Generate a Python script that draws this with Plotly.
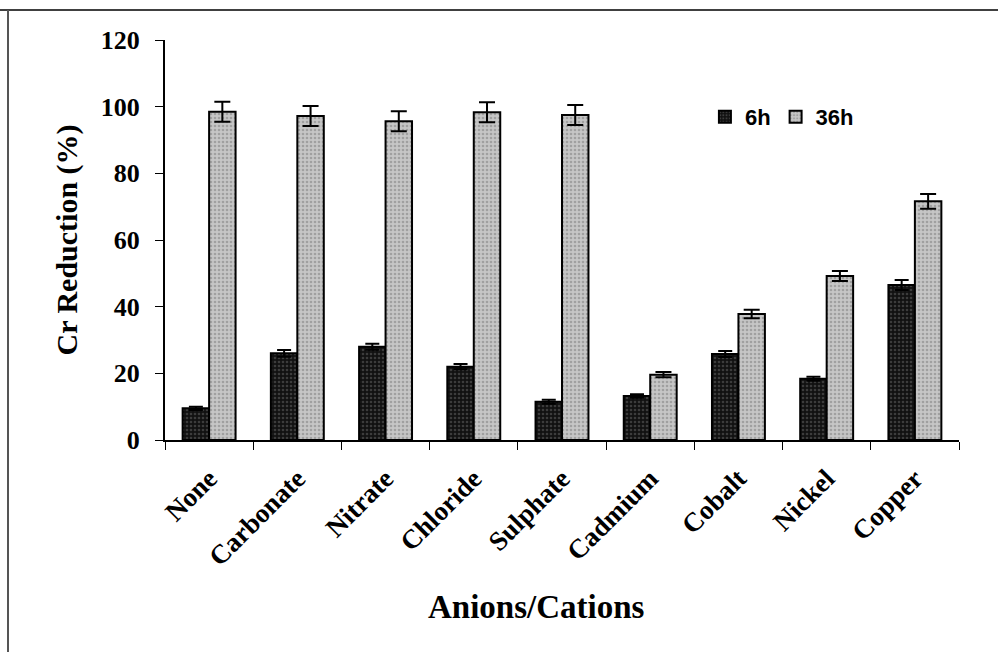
import plotly.graph_objects as go

# Cr(VI) reduction after 6 h and 36 h in the presence of anions / cations
categories = ["None", "Carbonate", "Nitrate", "Chloride", "Sulphate",
              "Cadmium", "Cobalt", "Nickel", "Copper"]
red_6h = [9.5, 26.0, 28.0, 22.0, 11.5, 13.2, 25.8, 18.4, 46.5]
err_6h = [0.5, 1.0, 0.9, 0.8, 0.6, 0.5, 0.9, 0.6, 1.5]
red_36h = [98.5, 97.2, 95.6, 98.3, 97.5, 19.6, 37.8, 49.2, 71.6]
err_36h = [3.0, 3.0, 3.0, 3.0, 3.0, 0.8, 1.3, 1.5, 2.2]

serif = "Liberation Serif, Times New Roman, serif"
sans = "Liberation Sans, Arial, sans-serif"

fig = go.Figure()
fig.add_trace(go.Bar(
    name="6h", x=categories, y=red_6h,
    error_y=dict(type="data", array=err_6h, visible=True,
                 color="black", thickness=2, width=7),
    marker=dict(color="#111111",
                line=dict(color="black", width=2),
                pattern=dict(shape=".", fgcolor="#3c3c3c", bgcolor="#111111",
                             size=4, solidity=0.35, fillmode="replace")),
))
fig.add_trace(go.Bar(
    name="36h", x=categories, y=red_36h,
    error_y=dict(type="data", array=err_36h, visible=True,
                 color="black", thickness=2, width=8),
    marker=dict(color="#c0c0c0",
                line=dict(color="black", width=2),
                pattern=dict(shape=".", fgcolor="#a0a0a0", bgcolor="#c6c6c6",
                             size=4, solidity=0.35, fillmode="replace")),
))

fig.update_layout(
    width=998, height=652,
    margin=dict(l=165, r=39, t=40, b=212),
    paper_bgcolor="white", plot_bgcolor="white",
    barmode="group", bargap=0.40, bargroupgap=0,
    showlegend=True,
    legend=dict(orientation="h", x=0.68, y=0.8075, xanchor="left", yanchor="middle",
                font=dict(family=sans, size=22, color="black", weight="bold"),
                bgcolor="rgba(0,0,0,0)", itemwidth=30, tracegroupgap=0),
    font=dict(family=serif, color="black"),
)

fig.update_yaxes(
    range=[0, 120], dtick=20, tickformat="d",
    showgrid=False, zeroline=False,
    showline=True, linecolor="black", linewidth=2,
    ticks="outside", ticklen=8, tickwidth=1, tickcolor="black",
    ticklabelstandoff=10,
    tickfont=dict(family=serif, size=26, color="black", weight="bold"),
    title=dict(text="Cr Reduction (%)", standoff=14,
               font=dict(family=serif, size=30, color="black", weight="bold")),
)
fig.update_xaxes(
    type="category", tickson="boundaries", tickangle=-45,
    showgrid=False, zeroline=False,
    showline=True, linecolor="black", linewidth=2,
    ticks="outside", ticklen=8, tickwidth=1, tickcolor="black",
    ticklabelstandoff=10,
    tickfont=dict(family=serif, size=27, color="black", weight="bold"),
)

# x-axis title, centred under the chart
fig.add_annotation(text="Anions/Cations", xref="paper", yref="paper",
                   x=(536 - 165) / 794, y=-0.4175, xanchor="center", yanchor="middle",
                   showarrow=False,
                   font=dict(family=serif, size=33, color="black", weight="bold"))

# frame lines along the top and left of the figure
fig.add_shape(type="line", xref="paper", yref="paper",
              x0=-165 / 794, x1=1.06, y0=1.075, y1=1.075,
              line=dict(color="black", width=1.5))
fig.add_shape(type="line", xref="paper", yref="paper",
              x0=-157 / 794, x1=-157 / 794, y0=1.075, y1=-0.6,
              line=dict(color="#555555", width=2))

fig.write_html("out.html")
